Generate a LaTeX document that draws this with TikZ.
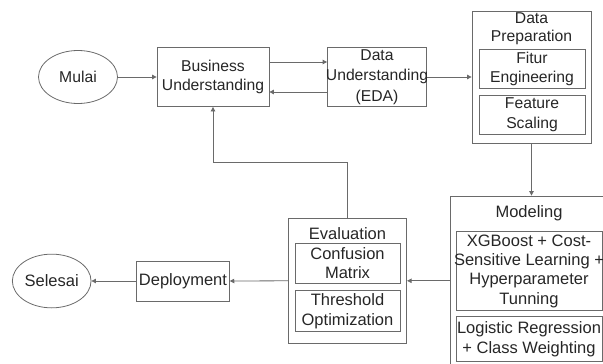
\documentclass[tikz,border=0pt]{standalone}
\usepackage{fontspec}
\setmainfont{Liberation Sans}
\usetikzlibrary{shapes.geometric,arrows.meta}
\definecolor{ln}{HTML}{6A6A6A}
\definecolor{tx}{HTML}{262626}
\begin{document}
\begin{tikzpicture}[x=1pt,y=-1pt,
  font=\fontsize{15.7}{19.5}\selectfont, text=tx,
  box/.style={draw=ln, line width=0.8pt, inner sep=0pt, align=center},
  term/.style={ellipse, draw=ln, line width=0.8pt, inner sep=0pt},
  lbl/.style={align=center, inner sep=0pt},
  big/.style={font=\fontsize{16.5}{19.3}\selectfont},
  arr/.style={draw=ln, line width=0.8pt, -{Triangle[length=4.5pt,width=4.5pt]}}]
\useasboundingbox (0,0) rectangle (603,364);
\clip (0,0) rectangle (603,364);

% top row
\node[term, minimum width=79pt, minimum height=53pt] (mulai) at (78,77) {Mulai};
\node[box, minimum width=112pt, minimum height=59pt] (bu) at (213,77) {};
\node[lbl] (but) at (bu) {Business\\Understanding};
\node[box, minimum width=99pt, minimum height=59pt] (du) at (377,77) {};
\node[lbl, font=\fontsize{15.7}{20.5}\selectfont] (dut) at (du) {Data\\Understanding\\(EDA)};

% data preparation
\node[box, minimum width=119pt, minimum height=131.5pt] (dp) at (531.5,77.5) {};
\node[lbl, font=\fontsize{15.7}{18}\selectfont] (dpt) at (531.5,29) {Data\\Preparation};
\node[box, minimum width=106pt, minimum height=39.5pt] (fe) at (532,68.7) {};
\node[lbl] (fet) at (fe) {Fitur\\Engineering};
\node[box, minimum width=106pt, minimum height=39.5pt] (fs) at (532,114.7) {};
\node[lbl] (fst) at (fs) {Feature\\Scaling};

% modeling
\node[box, minimum width=170pt, minimum height=184pt] (mod) at (535,288) {};
\node[lbl, big] (modt) at (529,213) {Modeling};
\node[box, minimum width=146pt, minimum height=79pt] (xg) at (529,271.2) {};
\node[lbl, big] (xgt) at (xg) {XGBoost + Cost-\\Sensitive Learning +\\Hyperparameter\\Tunning};
\node[box, minimum width=146pt, minimum height=45pt] (lr) at (529,339.2) {};
\node[lbl, big] (lrt) at (lr) {Logistic Regression\\+ Class Weighting};

% evaluation
\node[box, minimum width=118.4pt, minimum height=125pt] (ev) at (347.5,280.8) {};
\node[lbl, big] (evt) at (347.5,233.3) {Evaluation};
\node[box, minimum width=105pt, minimum height=40pt] (cm) at (347.5,263.3) {};
\node[lbl, big] (cmt) at (cm) {Confusion\\Matrix};
\node[box, minimum width=105pt, minimum height=41pt] (to) at (347.5,311.2) {};
\node[lbl, big] (tot) at (to) {Threshold\\Optimization};

% bottom row
\node[box, minimum width=92.7pt, minimum height=40pt, big] (dep) at (183,281) {Deployment};
\node[term, minimum width=78.7pt, minimum height=53.7pt, big] (sel) at (51.7,281) {Selesai};

% connectors
\draw[arr] (mulai.east) -- (bu.west);
\draw[arr] ([yshift=15pt]bu.east) -- ([yshift=15pt]du.west);
\draw[arr] ([yshift=-15pt]du.west) -- ([yshift=-15pt]bu.east);
\draw[arr] (du.east) -- (du.east -| dp.west);
\draw[arr] (dp.south) -- (dp.south |- mod.north);
\draw[arr] (ev.east -| mod.west) -- (ev.east);
\draw[arr] (ev.west) -- (dep.east);
\draw[arr] (dep.west) -- (sel.east);
\draw[arr] (ev.north) -- ++(0,-56) -| (bu.south);
\end{tikzpicture}
\end{document}
